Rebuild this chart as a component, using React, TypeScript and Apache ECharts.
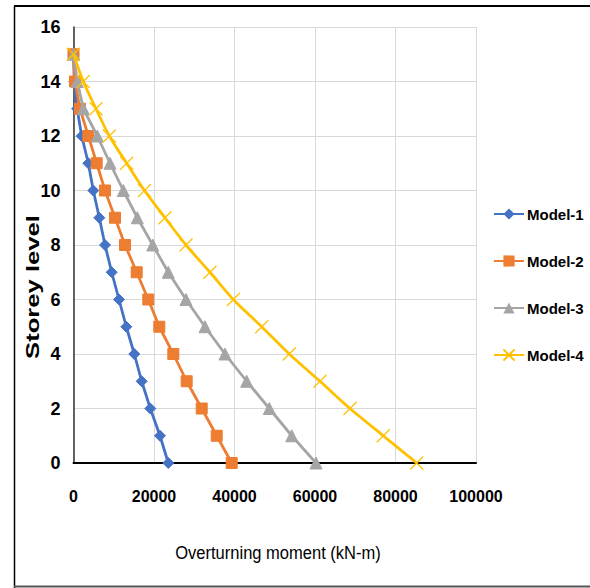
import React, { useEffect, useRef } from "react";
import * as echarts from "echarts";

const storeys = [15, 14, 13, 12, 11, 10, 9, 8, 7, 6, 5, 4, 3, 2, 1, 0];
const model1 = [0, 200, 900, 2040, 3680, 4920, 6410, 7830, 9490, 11300, 13120, 15100, 16940, 19080, 21490, 23550];
const model2 = [0, 370, 1610, 3680, 5760, 7830, 10310, 12800, 15700, 18580, 21320, 24800, 28120, 31850, 35580, 39300];
const model3 = [0, 950, 2440, 5910, 9070, 12380, 15850, 19680, 23550, 27950, 32670, 37640, 43030, 48650, 54220, 60250];
const model4 = [0, 2440, 5590, 8900, 13220, 17640, 22730, 27950, 33910, 39700, 46760, 53610, 61240, 68700, 76970, 85270];
const seriesNames = ["Model-1", "Model-2", "Model-3", "Model-4"];
const xTicks = [0, 20000, 40000, 60000, 80000, 100000];

const FONT = "'Liberation Sans', Arial, sans-serif";

export default function App() {
  const ref = useRef<HTMLDivElement>(null);
  useEffect(() => {
    if (!ref.current) return;
    const chart = echarts.init(ref.current, null, { renderer: "svg" });
    const pair = (vals: number[]) => vals.map((v, i) => [v, storeys[i]]);
    const colors = ["#4472C4", "#ED7D31", "#A5A5A5", "#FFC000"];
    const symbols = ["diamond", "rect", "triangle", "path://M0,0L10,10M10,0L0,10"];
    const sizes = [11, 11, 12, 13];
    const datas = [model1, model2, model3, model4];
    chart.setOption({
      animation: false,
      backgroundColor: "#ffffff",
      grid: { left: 73.5, top: 27, right: 114, bottom: 125 },
      xAxis: {
        type: "value",
        min: xTicks[0],
        max: xTicks[xTicks.length - 1],
        interval: 20000,
        axisLine: { show: true, lineStyle: { color: "#000", width: 2 } },
        axisTick: { show: false },
        splitLine: { show: true, lineStyle: { color: "#d9d9d9", width: 1 } },
        axisLabel: {
          color: "#000",
          fontSize: 16,
          fontFamily: FONT,
          fontWeight: "bold",
          margin: 25,
          formatter: (v: number) => String(v),
        },
      },
      yAxis: {
        type: "value",
        min: 0,
        max: 16,
        interval: 2,
        axisLine: { show: true, lineStyle: { color: "#333", width: 1.5 } },
        axisTick: { show: false },
        splitLine: { show: true, lineStyle: { color: "#d9d9d9", width: 1 } },
        axisLabel: { color: "#000", fontSize: 18, fontFamily: FONT, fontWeight: "bold", margin: 13 },
      },
      legend: {
        orient: "vertical",
        left: 488,
        top: 200,
        itemWidth: 30,
        itemHeight: 14,
        itemGap: 29,
        data: seriesNames,
        textStyle: {
          color: "#000",
          fontSize: 15,
          fontFamily: FONT,
          fontWeight: "bold",
          lineHeight: 18,
          padding: [0, 0, 0, -2],
        },
      },
      series: seriesNames.map((name, k) => ({
        name,
        type: "line",
        data: pair(datas[k]),
        smooth: k === 3 ? 0.3 : false,
        symbol: symbols[k],
        symbolSize: sizes[k],
        showSymbol: true,
        lineStyle: { color: colors[k], width: 2.8 },
        itemStyle:
          k === 3
            ? { color: "none", borderColor: colors[k], borderWidth: 1.2 }
            : { color: colors[k], borderColor: colors[k] },
        z: 2 + k,
      })),
      graphic: [
        { type: "line", shape: { x1: 14, y1: 6, x2: 590, y2: 6 }, style: { stroke: "#000", lineWidth: 2 } },
        { type: "line", shape: { x1: 14.5, y1: 6, x2: 14.5, y2: 588 }, style: { stroke: "#000", lineWidth: 1.5 } },
        { type: "line", shape: { x1: 14, y1: 586.5, x2: 590, y2: 586.5 }, style: { stroke: "#555", lineWidth: 2 } },
        {
          type: "text",
          x: 33,
          y: 287,
          rotation: Math.PI / 2,
          scaleX: 1.35,
          style: {
            text: "Storey level",
            fill: "#000",
            font: "bold 19px " + FONT,
            align: "center",
            verticalAlign: "middle",
          },
        },
        {
          type: "text",
          x: 278,
          y: 553,
          scaleX: 0.87,
          style: {
            text: "Overturning moment (kN-m)",
            fill: "#000",
            font: "19px " + FONT,
            align: "center",
            verticalAlign: "middle",
          },
        },
      ],
    });
    return () => chart.dispose();
  }, []);
  return <div ref={ref} style={{ position: "fixed", left: 0, top: 0, width: 590, height: 588 }} />;
}
